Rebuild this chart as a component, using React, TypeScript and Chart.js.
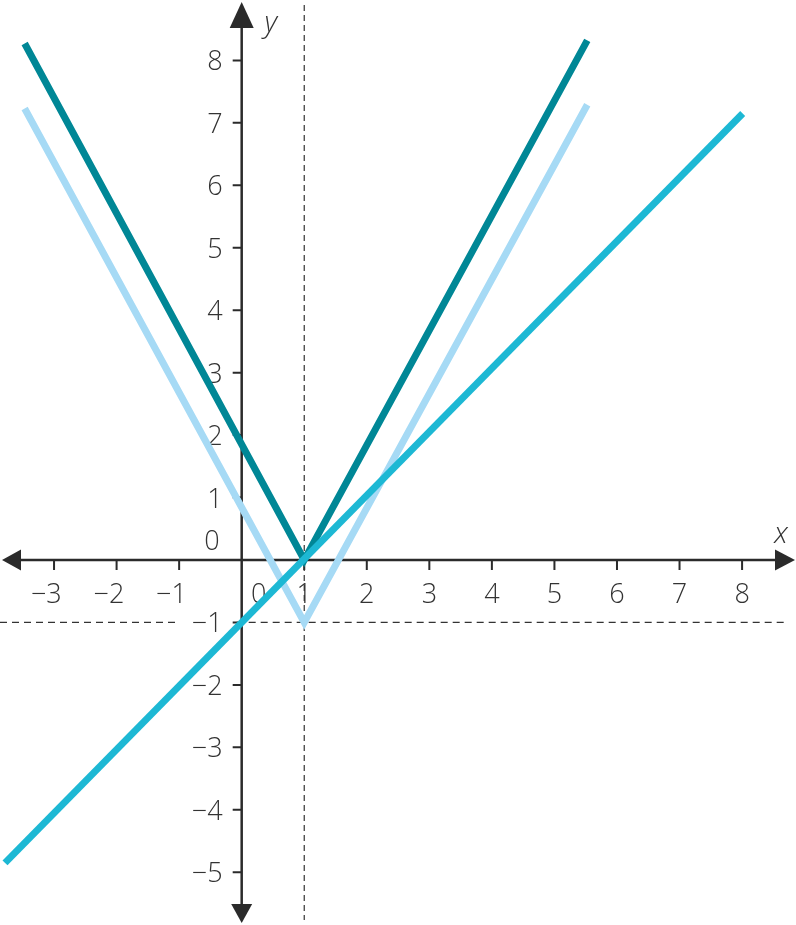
import React, { useEffect, useRef } from 'react';
import { Chart, registerables } from 'chart.js';

Chart.register(...registerables);

// axis ranges
const X_MIN = -3.864;
const X_MAX = 8.862;
const Y_MIN = -5.845;
const Y_MAX = 8.967;

// tick labels
const xTicks = [-3, -2, -1, 0, 1, 2, 3, 4, 5, 6, 7, 8];
const yTicks = [-5, -4, -3, -2, -1, 0, 1, 2, 3, 4, 5, 6, 7, 8];

// series
const darkX = [-3.47, 1, 5.525];
const darkY = [8.27, 0, 8.32];
const lightX = [-3.47, 1, 5.525];
const lightY = [7.23, -1, 7.29];
const cyanX = [-3.784, 8.01];
const cyanY = [-4.85, 7.15];

// dashed guide lines
const vDashX = [1, 1];
const vDashY = [8.887, -5.765];
const hDashX = [-3.864, -1.03, -0.5, -0.08, 8.68];
const hDashY = [-1, -1, null, -1, -1];

const AXIS_COLOR = '#2b2b2b';
const TEXT_COLOR = '#333333';
const FONT = '"Open Sans", "DejaVu Sans", sans-serif';

const pts = (xs: number[], ys: (number | null)[]) => xs.map((x, i) => ({ x, y: ys[i] }));

const axesPlugin = {
  id: 'mathAxes',
  beforeDatasetsDraw(chart: any) {
    const ctx = chart.ctx as CanvasRenderingContext2D;
    const xs = chart.scales.x;
    const ys = chart.scales.y;
    const area = chart.chartArea;
    const ox = xs.getPixelForValue(0);
    const oy = ys.getPixelForValue(0);
    ctx.save();
    ctx.strokeStyle = AXIS_COLOR;
    ctx.fillStyle = AXIS_COLOR;
    ctx.lineWidth = 2.5;
    // axis lines
    ctx.beginPath();
    ctx.moveTo(area.left + 12, oy);
    ctx.lineTo(area.right - 12, oy);
    ctx.moveTo(ox, area.top + 14);
    ctx.lineTo(ox, area.bottom - 12);
    ctx.stroke();
    // arrows
    ctx.beginPath();
    ctx.moveTo(area.left + 2, oy);
    ctx.lineTo(area.left + 21, oy - 10.5);
    ctx.lineTo(area.left + 21, oy + 10.5);
    ctx.closePath();
    ctx.fill();
    ctx.beginPath();
    ctx.moveTo(area.right - 1, oy);
    ctx.lineTo(area.right - 21, oy - 10.5);
    ctx.lineTo(area.right - 21, oy + 10.5);
    ctx.closePath();
    ctx.fill();
    ctx.beginPath();
    ctx.moveTo(ox, area.top + 2);
    ctx.lineTo(ox - 12, area.top + 28);
    ctx.lineTo(ox + 12, area.top + 28);
    ctx.closePath();
    ctx.fill();
    ctx.beginPath();
    ctx.moveTo(ox, area.bottom - 2);
    ctx.lineTo(ox - 10.5, area.bottom - 21);
    ctx.lineTo(ox + 10.5, area.bottom - 21);
    ctx.closePath();
    ctx.fill();
    // tick marks
    ctx.lineWidth = 2;
    ctx.beginPath();
    xTicks.forEach((v) => {
      if (v === 0) return;
      const px = xs.getPixelForValue(v);
      ctx.moveTo(px, oy);
      ctx.lineTo(px, oy + 10);
    });
    yTicks.forEach((v) => {
      if (v === 0) return;
      const py = ys.getPixelForValue(v);
      ctx.moveTo(ox - 9, py);
      ctx.lineTo(ox, py);
    });
    ctx.stroke();
    // tick labels
    ctx.fillStyle = TEXT_COLOR;
    ctx.font = `300 27px ${FONT}`;
    ctx.textBaseline = 'alphabetic';
    ctx.textAlign = 'right';
    xTicks.forEach((v) => {
      let px = xs.getPixelForValue(v);
      if (v === 0) px += 17;
      const digit = String(Math.abs(v));
      const w = ctx.measureText(digit).width;
      const text = v < 0 ? '\u2212' + digit : digit;
      ctx.fillText(text, px + w / 2, oy + 43);
    });
    yTicks.forEach((v) => {
      const text = v < 0 ? '\u2212' + String(Math.abs(v)) : String(v);
      if (v === 0) {
        ctx.fillText(text, ox - 22, oy - 10);
      } else {
        ctx.fillText(text, ox - 19, ys.getPixelForValue(v) + 10);
      }
    });
    // axis names
    ctx.font = `italic 300 29px ${FONT}`;
    ctx.textAlign = 'center';
    ctx.fillText('x', area.right - 15, oy - 17);
    ctx.fillText('y', ox + 29, area.top + 32);
    ctx.restore();
  },
};

export default function App() {
  const ref = useRef<HTMLCanvasElement | null>(null);
  useEffect(() => {
    document.body.style.margin = '0';
    const canvas = ref.current;
    if (!canvas) return;
    const chart = new Chart(canvas, {
      type: 'scatter',
      data: {
        datasets: [
          {
            label: 'y = x − 1',
            data: pts(cyanX, cyanY),
            showLine: true,
            borderColor: '#1db8d4',
            borderWidth: 7,
            borderCapStyle: 'butt',
            pointRadius: 0,
            order: 0,
          },
          {
            label: 'dark',
            data: pts(darkX, darkY),
            showLine: true,
            borderColor: '#008796',
            borderWidth: 7,
            borderCapStyle: 'butt',
            borderJoinStyle: 'miter',
            pointRadius: 0,
            order: 1,
          },
          {
            label: 'light',
            data: pts(lightX, lightY),
            showLine: true,
            borderColor: '#a6daf5',
            borderWidth: 7,
            borderCapStyle: 'butt',
            borderJoinStyle: 'miter',
            pointRadius: 0,
            order: 2,
          },
          {
            label: 'x = 1',
            data: pts(vDashX, vDashY),
            showLine: true,
            borderColor: '#333333',
            borderWidth: 1.2,
            borderDash: [6, 4],
            pointRadius: 0,
            order: 3,
          },
          {
            label: 'y = -1',
            data: pts(hDashX, hDashY),
            showLine: true,
            spanGaps: false,
            borderColor: '#333333',
            borderWidth: 1.2,
            borderDash: [7, 5],
            pointRadius: 0,
            order: 4,
          },
        ] as any,
      },
      options: {
        animation: false,
        responsive: false,
        layout: { padding: 0 },
        plugins: { legend: { display: false }, tooltip: { enabled: false } },
        scales: {
          x: { type: 'linear', min: X_MIN, max: X_MAX, display: false },
          y: { type: 'linear', min: Y_MIN, max: Y_MAX, display: false },
        },
      },
      plugins: [axesPlugin],
    });
    return () => chart.destroy();
  }, []);
  return <canvas ref={ref} width={796} height={925} style={{ display: 'block' }} />;
}
